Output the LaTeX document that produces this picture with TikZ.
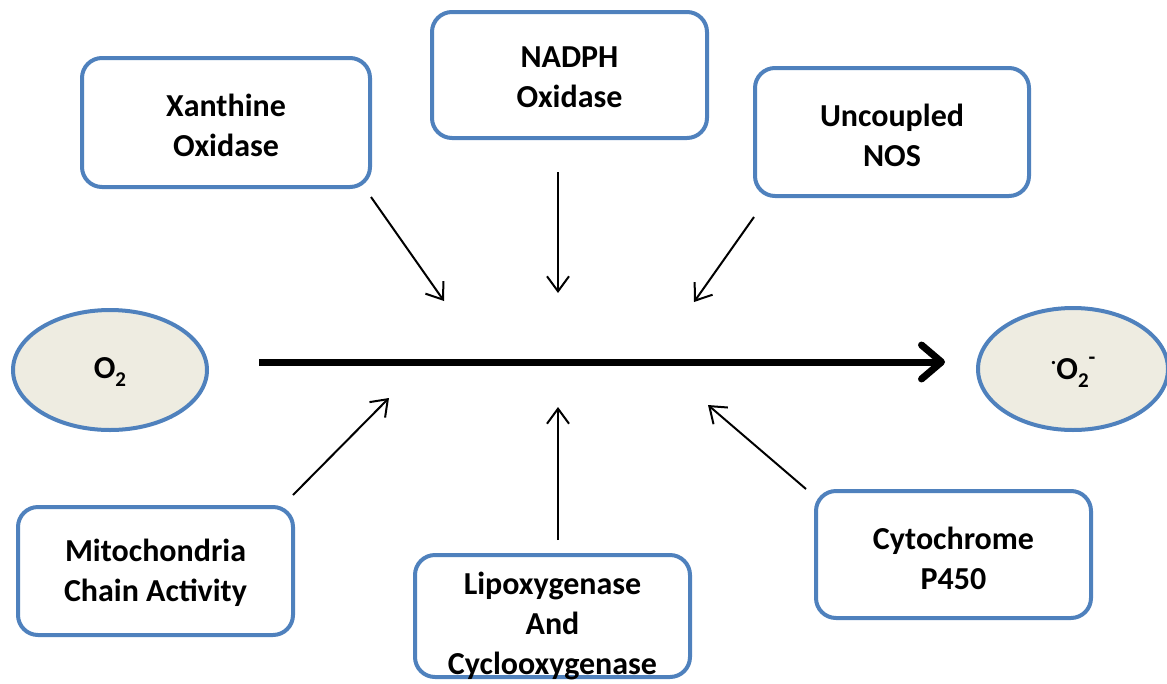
\documentclass[tikz,border=0pt]{standalone}
\usepackage{fontspec}
\setmainfont{Carlito}
\usetikzlibrary{arrows.meta,shapes.geometric}
\definecolor{boxblue}{HTML}{4F81BD}
\definecolor{ellfill}{HTML}{EEECE1}
\newcommand{\subtwo}{\raisebox{-8pt}{\fontsize{21}{21}\selectfont 2}}
\tikzset{
  srcbox/.style={draw=boxblue, line width=4pt, rounded corners=20pt, fill=white, inner sep=0pt},
  lbl/.style={align=center, font=\fontsize{32}{40}\selectfont\bfseries, inner sep=0pt},
  species/.style={ellipse, draw=boxblue, line width=4pt, fill=ellfill, inner sep=0pt},
  thin/.style={line width=2pt, -{Straight Barb[length=15pt,width=22pt]}},
  main/.style={line width=7pt, -{Straight Barb[length=20pt,width=34pt,round]}}
}
\begin{document}
\begin{tikzpicture}[x=1pt,y=-1pt]
\useasboundingbox (0,0) rectangle (1167,683);
\begin{scope}
\clip (0,0) rectangle (1167,683);
% boxes
\node[srcbox, minimum width=288pt, minimum height=129pt] (xo) at (226,122.5) {};
\node[lbl] (xot) at (226,125) {Xanthine\\Oxidase};
\node[srcbox, minimum width=275pt, minimum height=126pt] (nox) at (569.5,75) {};
\node[lbl] (noxt) at (569.5,77) {NADPH\\Oxidase};
\node[srcbox, minimum width=274pt, minimum height=128pt] (nos) at (892,132) {};
\node[lbl] (nost) at (892,135) {Uncoupled\\NOS};
\node[srcbox, minimum width=275pt, minimum height=128pt] (mito) at (155.5,571) {};
\node[lbl] (mitot) at (155.5,573) {Mitochondria\\Chain Activity};
\node[srcbox, minimum width=275pt, minimum height=122pt] (lox) at (552.5,616) {};
\node[lbl] (loxt) at (552.5,626) {Lipoxygenase\\And\\Cyclooxygenase};
\node[srcbox, minimum width=275pt, minimum height=127pt] (cyp) at (953.5,554.5) {};
\node[lbl] (cypt) at (953.5,558) {Cytochrome\\P450};
% ellipses
\node[species, minimum width=194pt, minimum height=120pt] (o2) at (110,370) {};
\node[lbl] (o2t) at (110,372) {O\subtwo};
\node[species, minimum width=190pt, minimum height=122pt] (sup) at (1073,369) {};
\node[lbl] (supt) at (1073,372) {\raisebox{15pt}{\fontsize{22}{22}\selectfont .}O\subtwo\raisebox{15pt}{\fontsize{22}{22}\selectfont -}};
\end{scope}
% coordinates
\coordinate (ms) at (259,362);
\coordinate (me) at (945,362);
\coordinate (a1) at (371,197); \coordinate (b1) at (444,301);
\coordinate (a2) at (558,172); \coordinate (b2) at (558,293);
\coordinate (a3) at (754,217); \coordinate (b3) at (694,302);
\coordinate (a4) at (293,495); \coordinate (b4) at (389,398);
\coordinate (a5) at (558,540); \coordinate (b5) at (558,407);
\coordinate (a6) at (806,489); \coordinate (b6) at (708,405);
\draw[main] (ms) -- (me);
\draw[thin] (a1) -- (b1);
\draw[thin] (a2) -- (b2);
\draw[thin] (a3) -- (b3);
\draw[thin] (a4) -- (b4);
\draw[thin] (a5) -- (b5);
\draw[thin] (a6) -- (b6);
\end{tikzpicture}
\end{document}
